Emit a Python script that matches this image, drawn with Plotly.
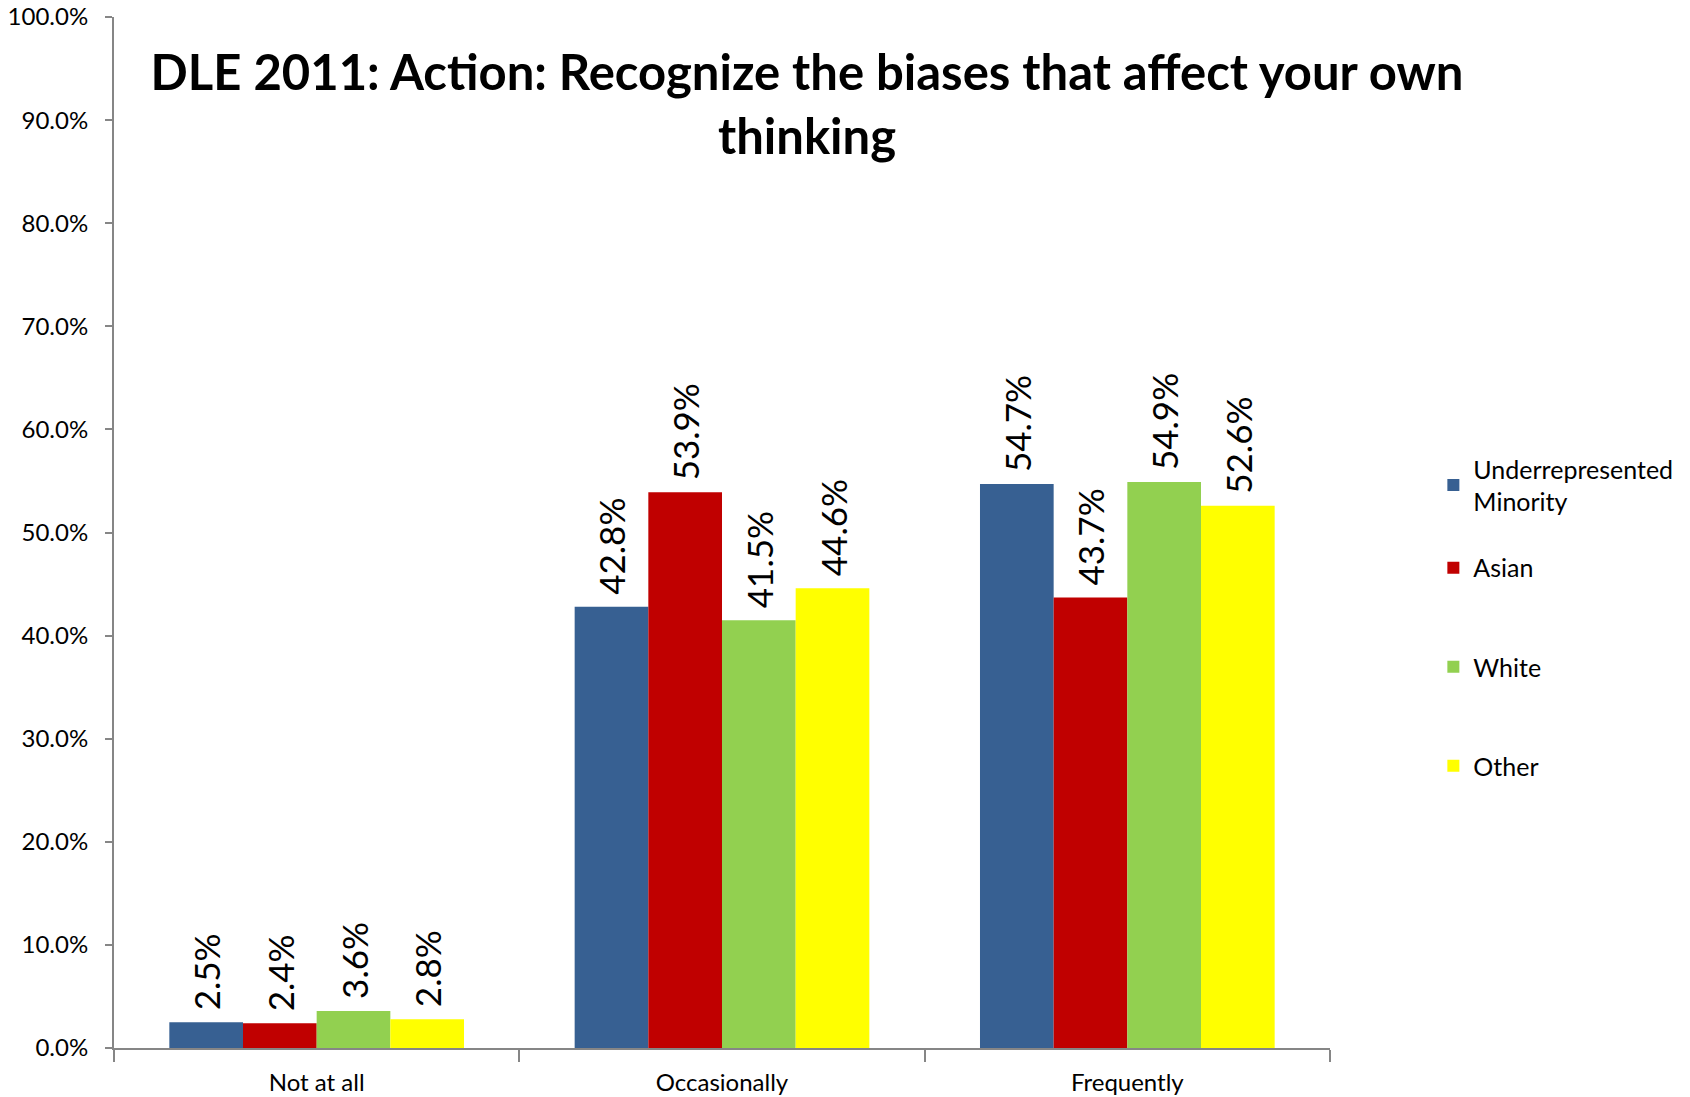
import plotly.graph_objects as go

categories = ["Not at all", "Occasionally", "Frequently"]
groups = ["Underrepresented<br>Minority", "Asian", "White", "Other"]
values = [
    [0.025, 0.428, 0.547],  # Underrepresented Minority
    [0.024, 0.539, 0.437],  # Asian
    [0.036, 0.415, 0.549],  # White
    [0.028, 0.446, 0.526],  # Other
]
colors = ["#376092", "#C00000", "#92D050", "#FFFF00"]

font_family = "Lato, Open Sans, sans-serif"
legend_keys = ["legend", "legend2", "legend3", "legend4"]
legend_y = [0.546, 0.4656, 0.3695, 0.2735]

fig = go.Figure()
for i, name in enumerate(groups):
    fig.add_trace(go.Bar(
        x=categories, y=values[i], name=name,
        marker_color=colors[i], marker_line_width=0,
        # non-breaking space gives the small gap above the bar top
        text=["\u00a0" + f"{v:.1%}" for v in values[i]],
        textposition="outside", textangle=-90, constraintext="none",
        textfont=dict(size=35, color="black", family=font_family),
        cliponaxis=False,
        legend=legend_keys[i],
    ))

legends = {}
for key, ly in zip(legend_keys, legend_y):
    legends[key] = dict(
        x=1.085, xanchor="left", y=ly, yanchor="middle",
        font=dict(size=25, family=font_family, color="black"),
        bgcolor="rgba(0,0,0,0)",
    )

fig.update_layout(
    width=1690, height=1097,
    plot_bgcolor="white", paper_bgcolor="white",
    margin=dict(l=114, r=355, t=17, b=49),
    barmode="group", bargap=0.273, bargroupgap=0,
    font=dict(family=font_family, color="black"),
    title=dict(
        text="<b>DLE 2011: Action: Recognize the biases that affect your own<br>thinking</b>",
        x=807 / 1690, xanchor="center", xref="container",
        y=1 - 90 / 1097, yanchor="top", yref="container",
        font=dict(size=49, family=font_family, color="black"),
    ),
    showlegend=True,
    **legends,
)

fig.update_yaxes(
    range=[0, 1], dtick=0.1, tickformat=".1%",
    showgrid=False, zeroline=False, automargin=False,
    showline=True, linecolor="#868686", linewidth=2,
    ticks="outside", ticklen=7, tickcolor="#868686", tickwidth=2,
    ticklabelstandoff=12, ticklabeloverflow="allow",
    tickfont=dict(size=24, family=font_family, color="black"),
)
fig.update_xaxes(
    showgrid=False, automargin=False,
    showline=True, linecolor="#868686", linewidth=2,
    ticks="outside", ticklen=12, tickcolor="#868686", tickwidth=2,
    tickson="boundaries", ticklabelstandoff=12,
    tickfont=dict(size=24, family=font_family, color="black"),
)

# drop the default 8px page margin so the figure fills the window
fig.write_html(
    "out.html",
    config={"displayModeBar": False},
    post_script="document.body.style.margin = '0px';",
)
